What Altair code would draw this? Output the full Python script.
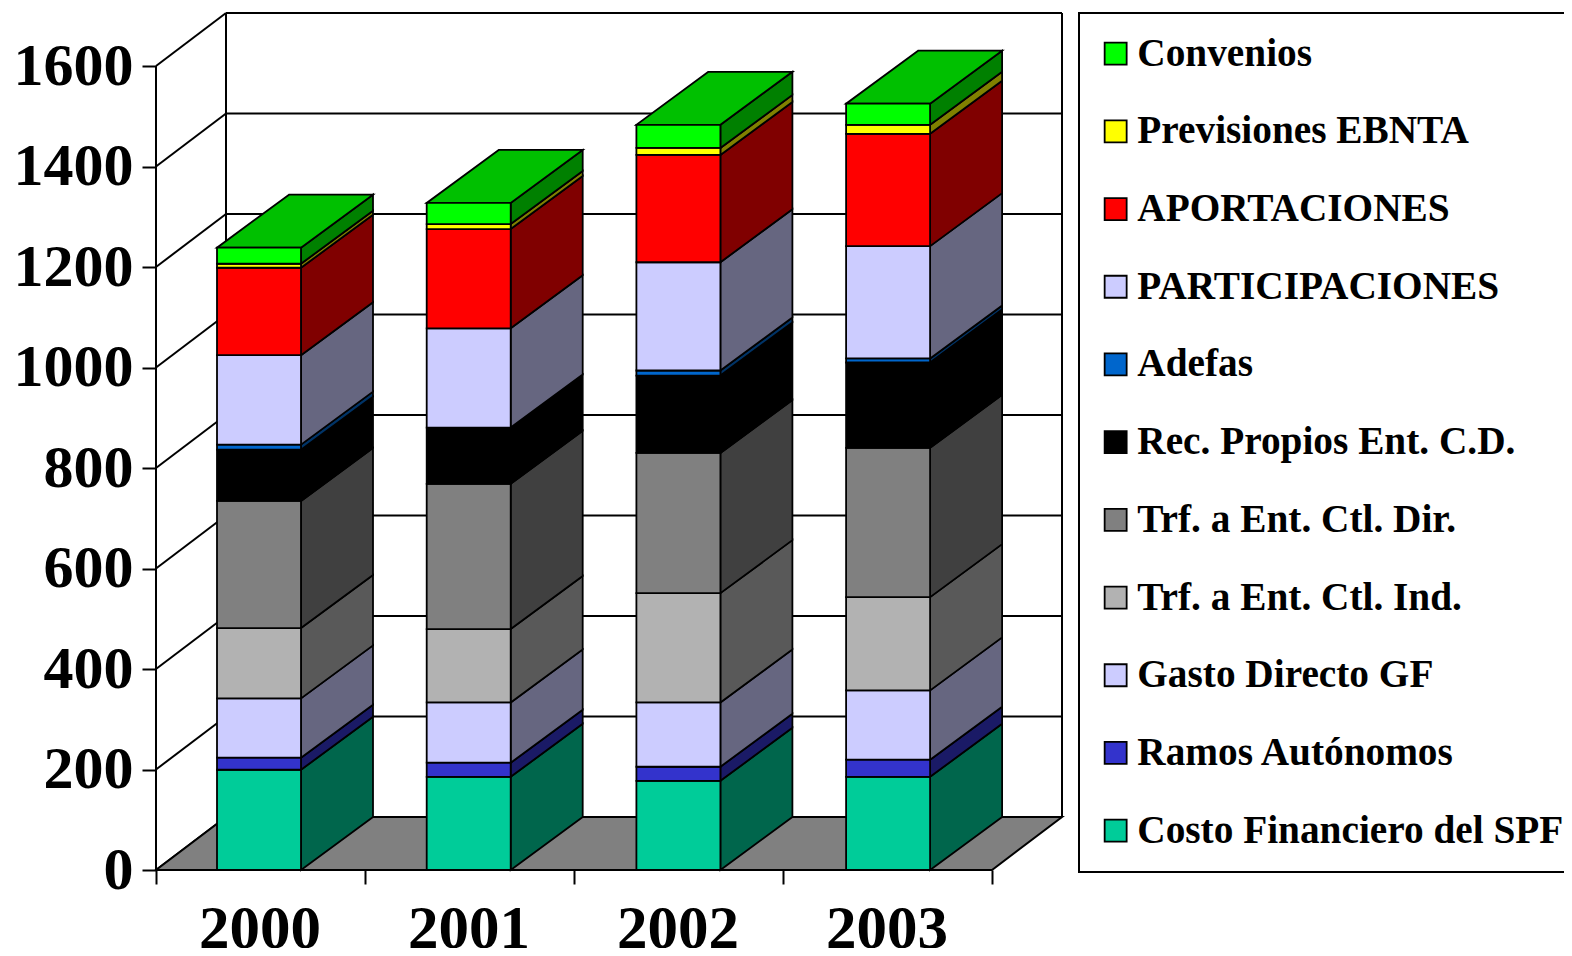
import altair as alt
import pandas as pd

FONT = "Liberation Serif"
years = ["2000", "2001", "2002", "2003"]
series = ["Convenios", "Previsiones EBNTA", "APORTACIONES", "PARTICIPACIONES", "Adefas",
          "Rec. Propios Ent. C.D.", "Trf. a Ent. Ctl. Dir.", "Trf. a Ent. Ctl. Ind.",
          "Gasto Directo GF", "Ramos Autónomos", "Costo Financiero del SPF"]
front_colors = ["#00FF00", "#FFFF00", "#FF0000", "#CCCCFF", "#0066CC", "#000000",
                "#808080", "#B2B2B2", "#CCCCFF", "#3333CC", "#00CC99"]
side_colors = ["#008000", "#808000", "#800000", "#666680", "#003366", "#000000",
               "#404040", "#595959", "#666680", "#1A1A66", "#00664C"]
top_color = "#00C000"
floor_color = "#808080"

# listed bottom to top for each year, same order as reversed(series)
v2000 = [199.5, 24, 118, 140, 253, 102, 10, 178, 174, 8, 32]
v2001 = [185.5, 28, 120, 146, 289, 112, 0, 197.5, 197.5, 10, 42]
v2002 = [177.5, 28, 128, 217.5, 279, 154, 10, 215.5, 213.5, 14, 46]
v2003 = [185.5, 34, 138, 185.5, 297, 170, 8, 223.5, 223.5, 18, 42]
values = [v2000, v2001, v2002, v2003]
y_ticks = [0, 200, 400, 600, 800, 1000, 1200, 1400, 1600]

W, H = 906, 857
CAT_PX = 209.0
UNIT_PX = H / 1705.5
WALL_DX = 70 / CAT_PX
WALL_DY = 53 / UNIT_PX
BAR_DX = 72 / CAT_PX
BAR_DY = 53 / UNIT_PX
BAR_L = 61 / CAT_PX
BAR_W = 84 / CAT_PX
BAR_STEP = 209.7 / CAT_PX
xdom = [0, 4 + WALL_DX]
ydom = [0, 1600 + WALL_DY]

front, side, top = [], [], []
for i, yr in enumerate(years):
    base = 0.0
    xl, xr = i * BAR_STEP + BAR_L, i * BAR_STEP + BAR_L + BAR_W
    for j, val in enumerate(values[i]):
        s = series[len(series) - 1 - j]
        k = series.index(s)
        t = base + val
        front.append(dict(year=yr, series=s, x=xl, x2=xr, y=base, y2=t))
        for a in (0, 1):
            side.append(dict(key=f"{yr}-{k}", fill=side_colors[k], x=xr + a * BAR_DX,
                             y=base + a * BAR_DY, y2=t + a * BAR_DY, ord=k))
        base = t
    for a in (0, 1):
        top.append(dict(year=yr, x=xl + a * BAR_DX, x2=xr + a * BAR_DX, y=base + a * BAR_DY))

df_front, df_side, df_top = map(pd.DataFrame, (front, side, top))

year_expr = "[" + ",".join(f"'{y}'" for y in years) + ",''][datum.value]"
x_axis = alt.Axis(values=[0, 1, 2, 3, 4], labelExpr=year_expr, labelOffset=103.5, domain=False,
                  grid=False, ticks=True, tickSize=14, tickWidth=2, tickColor="black",
                  labelFont=FONT, labelFontWeight="bold", labelFontSize=61, labelColor="black",
                  labelPadding=15, labelOverlap=False, labelFlush=False, labelBound=False)
y_axis = alt.Axis(values=y_ticks, format="d", domain=False, grid=False, tickSize=14, tickWidth=2,
                  tickColor="black", labelFont=FONT, labelFontWeight="bold", labelFontSize=60,
                  labelColor="black", labelPadding=9, labelOverlap=False, labelFlush=False,
                  labelBound=False)

X = lambda f="x:Q": alt.X(f, scale=alt.Scale(domain=xdom, nice=False, zero=False), title=None, axis=x_axis)
Y = lambda f="y:Q": alt.Y(f, scale=alt.Scale(domain=ydom, nice=False, zero=False), title=None, axis=y_axis)

# walls
df_grid = pd.DataFrame(dict(v=y_ticks))
df_grid["x"], df_grid["x2"] = 0.0, WALL_DX
df_grid["xe"] = xdom[1]
df_grid["yb"] = df_grid.v + WALL_DY
axes_layer = alt.Chart(df_grid).mark_rule(strokeWidth=2, color="black").encode(
    x=X("x:Q"), x2="x2:Q", y=Y("v:Q"), y2="yb:Q")
grid_back = alt.Chart(df_grid).mark_rule(strokeWidth=2, color="black").encode(
    x=X("x2:Q"), x2="xe:Q", y=Y("yb:Q"))

df_vert = pd.DataFrame(dict(x=[0, WALL_DX, xdom[1]], y=[0, WALL_DY, WALL_DY], y2=[1600, ydom[1], ydom[1]]))
verts = alt.Chart(df_vert).mark_rule(strokeWidth=2, color="black").encode(x=X("x:Q"), y=Y("y:Q"), y2="y2:Q")

df_floor = pd.DataFrame(dict(y=[0, WALL_DY], x=[0, WALL_DX], x2=[4, 4 + WALL_DX]))
floor = alt.Chart(df_floor).mark_area(orient="horizontal", fill=floor_color, stroke="black",
                                      strokeWidth=2, opacity=1).encode(
    y=Y("y:Q"), x=X("x:Q"), x2="x2:Q")

side_l = alt.Chart(df_side).mark_area(orient="vertical", stroke="black", strokeWidth=1.8, opacity=1).encode(
    x=X("x:Q"), y=Y("y:Q"), y2="y2:Q", fill=alt.Fill("fill:N", scale=None), detail="key:N")

top_l = alt.Chart(df_top).mark_area(orient="horizontal", fill=top_color, stroke="black",
                                    strokeWidth=1.8, opacity=1).encode(
    y=Y("y:Q"), x=X("x:Q"), x2="x2:Q", detail="year:N")

legend = alt.Legend(title=None, orient="none", legendX=923, legendY=0, symbolType="square",
                    symbolSize=484, symbolStrokeColor="black", symbolStrokeWidth=1.8, symbolOpacity=1,
                    labelFont=FONT, labelFontWeight="bold", labelFontSize=39.3, labelColor="black",
                    labelLimit=800, labelOffset=2, rowPadding=37.7, padding=21, symbolOffset=-4,
                    strokeColor="black", fillColor="white", values=series)
front_l = alt.Chart(df_front).mark_rect(stroke="black", strokeWidth=1.8, opacity=1).encode(
    x=X("x:Q"), x2="x2:Q", y=Y("y:Q"), y2="y2:Q",
    color=alt.Color("series:N", scale=alt.Scale(domain=series, range=front_colors), legend=legend))

chart = alt.layer(axes_layer, grid_back, verts, floor, side_l, top_l, front_l).properties(
    width=W, height=H, background="white", autosize=alt.AutoSizeParams(type="none"),
    padding={"left": 148, "top": 5, "right": 502, "bottom": 78},
).configure_legend(strokeWidth=2).configure_view(strokeWidth=0, stroke="transparent")

chart.save("out.html", embed_options={"renderer": "svg", "actions": False})
